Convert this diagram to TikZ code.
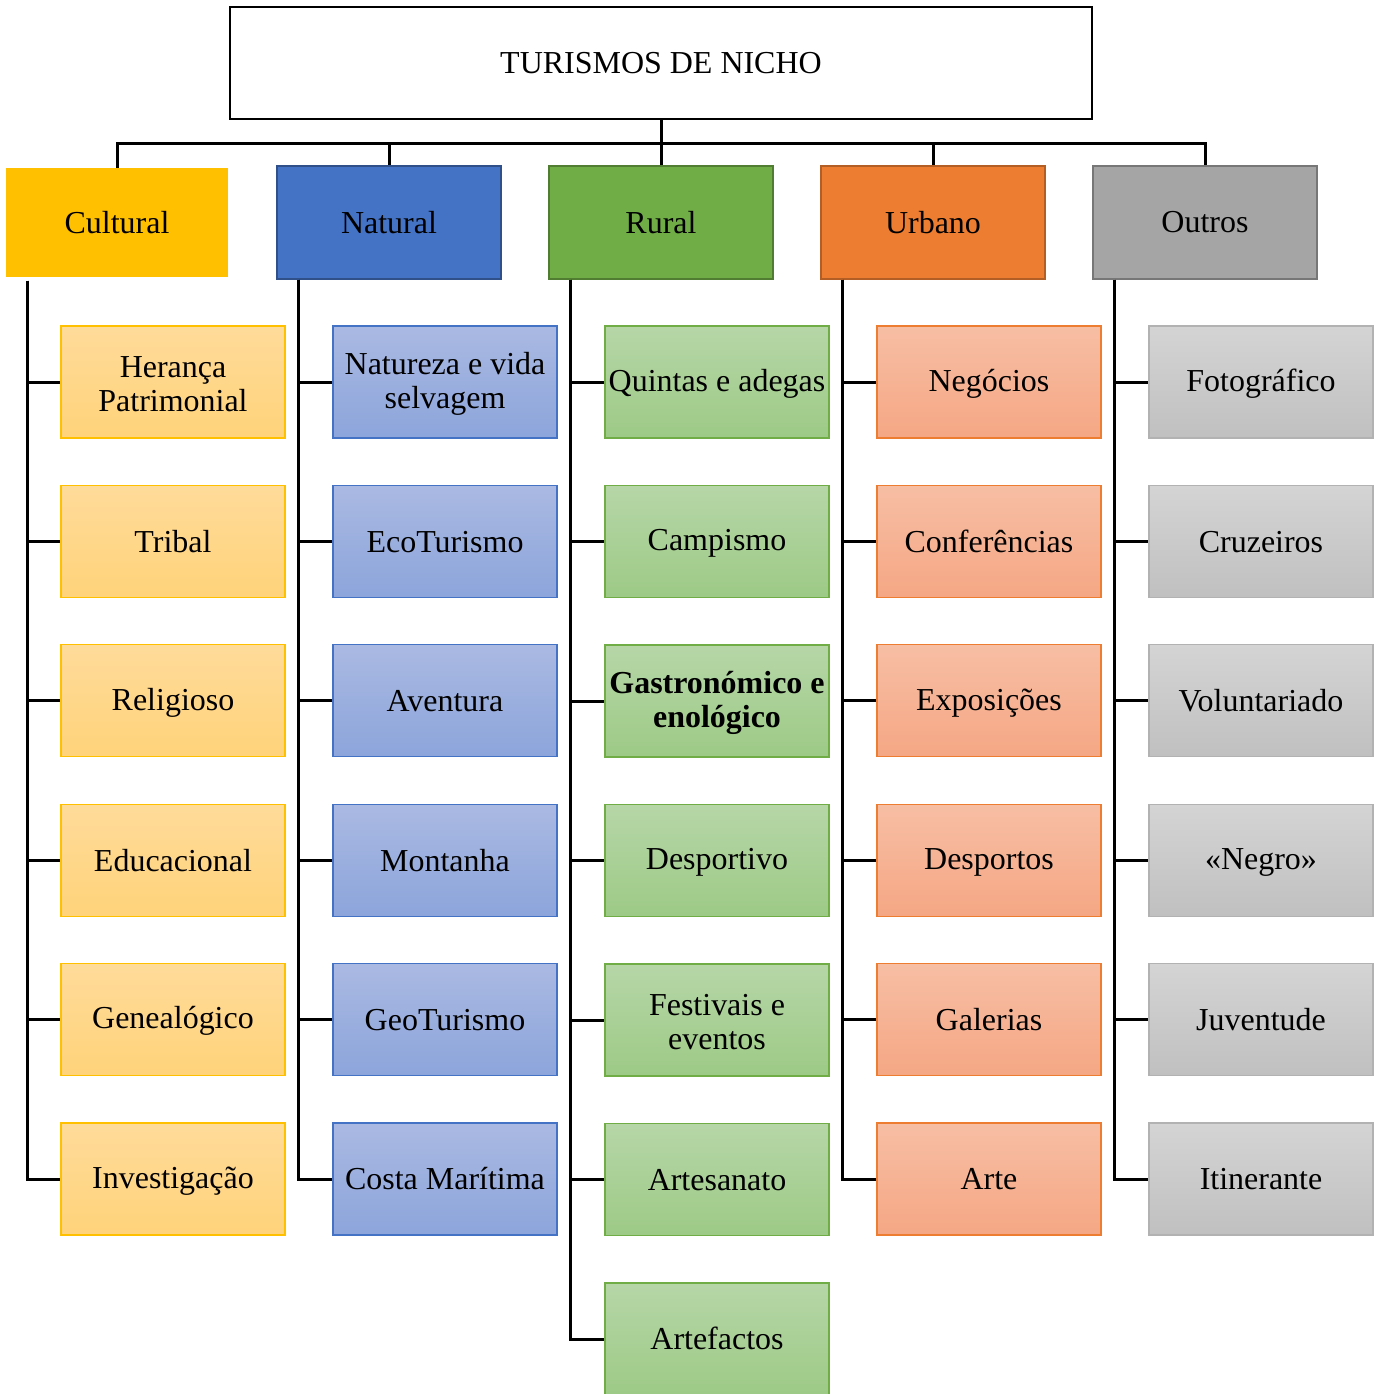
\documentclass[tikz,border=0pt]{standalone}
\usepackage{fontspec}
\setmainfont{Liberation Serif}
\usepackage{xcolor}

\definecolor{cultural}{HTML}{FFC000}
\definecolor{natural}{HTML}{4472C4}
\definecolor{rural}{HTML}{70AD47}
\definecolor{urbano}{HTML}{ED7D31}
\definecolor{outros}{HTML}{A5A5A5}

\newcommand{\vstrut}{\rule[-0.12em]{0pt}{0.92em}}

\tikzset{
  tree/.style={line width=0.06cm, black},
  catbox/.style={minimum width=4.5cm, minimum height=2.26cm, line width=0.04cm, inner sep=0pt,
                 font=\fontsize{18.2}{19.4}\selectfont},
  subbox/.style={minimum width=4.48cm, minimum height=2.24cm, line width=0.024cm, inner sep=0pt, align=center},
  txt/.style={font=\fontsize{18.2}{19.4}\selectfont},
}

\begin{document}
\begin{tikzpicture}[x=0.02cm, y=-0.02cm]
  \useasboundingbox (0,0) rectangle (1383,1394);

  % Title
  \node[draw, line width=0.04cm, minimum width=17.24cm, minimum height=2.24cm,
        font=\fontsize{18.2}{19}\selectfont] (top) at (661,63) {TURISMOS DE NICHO};

  % Categories
  \node[catbox, fill=cultural, draw=cultural, minimum width=4.4cm, minimum height=2.14cm] (cultural) at (117,222.5) {Cultural};
  \node[catbox, fill=natural, draw=natural!70!black] (natural) at (389,222.5) {Natural};
  \node[catbox, fill=rural, draw=rural!72!black] (rural) at (661,222.5) {Rural};
  \node[catbox, fill=urbano, draw=urbano!75!black] (urbano) at (933,222.5) {Urbano};
  \node[catbox, fill=outros, draw=outros!72!black] (outros) at (1205,222.5) {Outros};

  % Top connectors
  \foreach \c in {cultural,natural,rural,urbano,outros}
    \draw[tree] (top.south) -- ++(0,24) -| (\c.north);

  % Cultural
  \foreach \t [count=\i] in {Herança\\Patrimonial, Tribal, Religioso, Educacional, Genealógico, Investigação}
    \node[subbox, txt, draw=cultural, top color={rgb,255:red,255;green,219;blue,154}, bottom color={rgb,255:red,255;green,211;blue,122}]
      (cul\i) at (173,{382+159.4*(\i-1)}) {\vstrut\t};
  \foreach \i in {1,...,6}
    \draw[tree] ([xshift=0.42cm, yshift=-0.08cm]cultural.south west) |- (cul\i.west);

  % Natural
  \foreach \t [count=\i] in {Natureza e vida\\selvagem, EcoTurismo, Aventura, Montanha, GeoTurismo, Costa Marítima}
    \node[subbox, txt, draw=natural, top color={rgb,255:red,170;green,185;blue,226}, bottom color={rgb,255:red,140;green,165;blue,219}]
      (nat\i) at (445,{382+159.4*(\i-1)}) {\vstrut\t};
  \foreach \i in {1,...,6}
    \draw[tree] ([xshift=0.46cm]natural.south west) |- (nat\i.west);

  % Rural
  \foreach \t [count=\i] in {Quintas e adegas, Campismo, \textbf{Gastronómico e}\\\textbf{enológico}, Desportivo, Festivais e\\eventos, Artesanato, Artefactos}
    \node[subbox, txt, draw=rural, top color={rgb,255:red,182;green,214;blue,167}, bottom color={rgb,255:red,157;green,202;blue,134}]
      (rur\i) at (717,{382+159.5*(\i-1)}) {\vstrut\t};
  \foreach \i in {1,...,7}
    \draw[tree] ([xshift=0.46cm]rural.south west) |- (rur\i.west);

  % Urbano
  \foreach \t [count=\i] in {Negócios, Conferências, Exposições, Desportos, Galerias, Arte}
    \node[subbox, txt, draw=urbano, top color={rgb,255:red,247;green,190;blue,164}, bottom color={rgb,255:red,245;green,167;blue,132}]
      (urb\i) at (989,{382+159.4*(\i-1)}) {\vstrut\t};
  \foreach \i in {1,...,6}
    \draw[tree] ([xshift=0.46cm]urbano.south west) |- (urb\i.west);

  % Outros
  \foreach \t [count=\i] in {Fotográfico, Cruzeiros, Voluntariado, «Negro», Juventude, Itinerante}
    \node[subbox, txt, draw=outros!85, top color={rgb,255:red,212;green,212;blue,212}, bottom color={rgb,255:red,192;green,192;blue,192}]
      (out\i) at (1261,{382+159.4*(\i-1)}) {\vstrut\t};
  \foreach \i in {1,...,6}
    \draw[tree] ([xshift=0.46cm]outros.south west) |- (out\i.west);
\end{tikzpicture}
\end{document}
